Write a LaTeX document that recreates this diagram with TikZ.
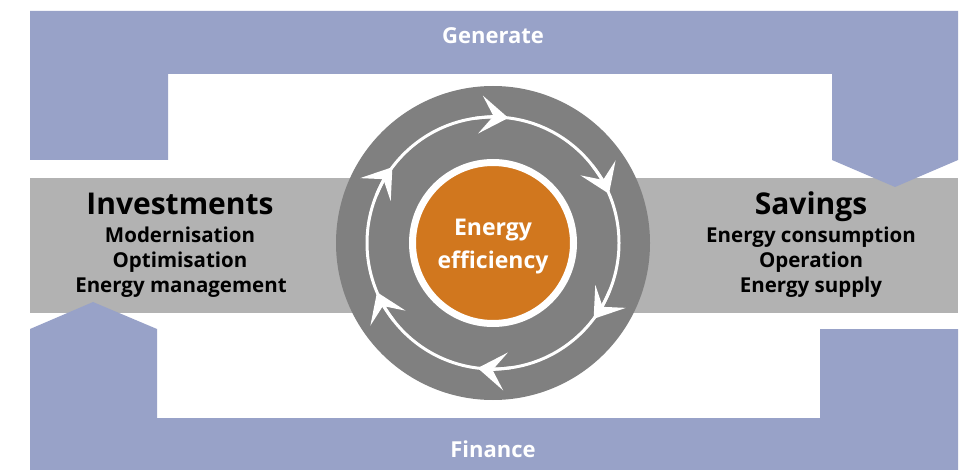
\documentclass[tikz,border=0pt]{standalone}
\usepackage{fontspec}
\setmainfont{Open Sans}
\usetikzlibrary{arrows.meta}
\definecolor{bandblue}{RGB}{152,162,200}
\definecolor{bandgray}{RGB}{178,178,178}
\definecolor{ringgray}{RGB}{128,128,128}
\definecolor{effcore}{RGB}{209,119,30}
\begin{document}
\begin{tikzpicture}[y=1pt, x=1pt, yscale=-1.000000, xscale=1.000000, inner sep=0pt, outer sep=0pt,
  headtxt/.style={font=\bfseries\fontsize{30}{36}\selectfont, anchor=base},
  itemtxt/.style={font=\bfseries\fontsize{20.5}{24}\selectfont, anchor=base},
  flowtxt/.style={text=white, font=\bfseries\fontsize{22}{26}\selectfont, anchor=base},
  efftxt/.style={text=white, font=\bfseries\fontsize{23}{28}\selectfont, anchor=base},
  cyclearrow/.style={draw=white, line width=3pt, -{Stealth[length=28pt, width=38pt, inset=13pt]}}]
\useasboundingbox (0,0) rectangle (969,470);
  \path[fill=bandgray] (30,178) rectangle (958,313);
  \path[fill=bandblue] (30,11) -- (958,11) -- (958,160) -- (895,187) -- (832,160) -- (832,74) -- (168,74) -- (168,160) -- (30,160) -- cycle;
  \path[fill=bandblue] (30,470) -- (30,329) -- (93,302) -- (157,329) -- (157,418) -- (820,418) -- (820,329) -- (958,329) -- (958,470) -- cycle;
\begin{scope}[shift={(493,243)}]
  \path[fill=ringgray] (0,0) circle (157);
  \path[draw=white, line width=3pt] (0,0) circle (126);
  \foreach \a in {-90,-30,30,90,150,210}
    \draw[cyclearrow] (\a-8:126) arc[start angle=\a-8, end angle=\a+7, radius=126];
  \path[fill=effcore, draw=white, line width=7pt] (0,0) circle (80.5);
\end{scope}
  \node[efftxt] (effa) at (493,235.5) {Energy};
  \node[efftxt] (effb) at (493,269) {efficiency};
  \node[headtxt] (invest) at (180,215) {Investments};
  \node[itemtxt] (modern) at (180,243) {Modernisation};
  \node[itemtxt] (optim) at (180,268) {Optimisation};
  \node[itemtxt] (emgmt) at (181,293) {Energy management};
  \node[headtxt] (savings) at (811,215) {Savings};
  \node[itemtxt] (econs) at (811,243) {Energy consumption};
  \node[itemtxt] (oper) at (811,268) {Operation};
  \node[itemtxt] (esupply) at (811,293) {Energy supply};
  \node[flowtxt] (gen) at (493,44) {Generate};
  \node[flowtxt] (fin) at (493,457) {Finance};
\end{tikzpicture}
\end{document}
